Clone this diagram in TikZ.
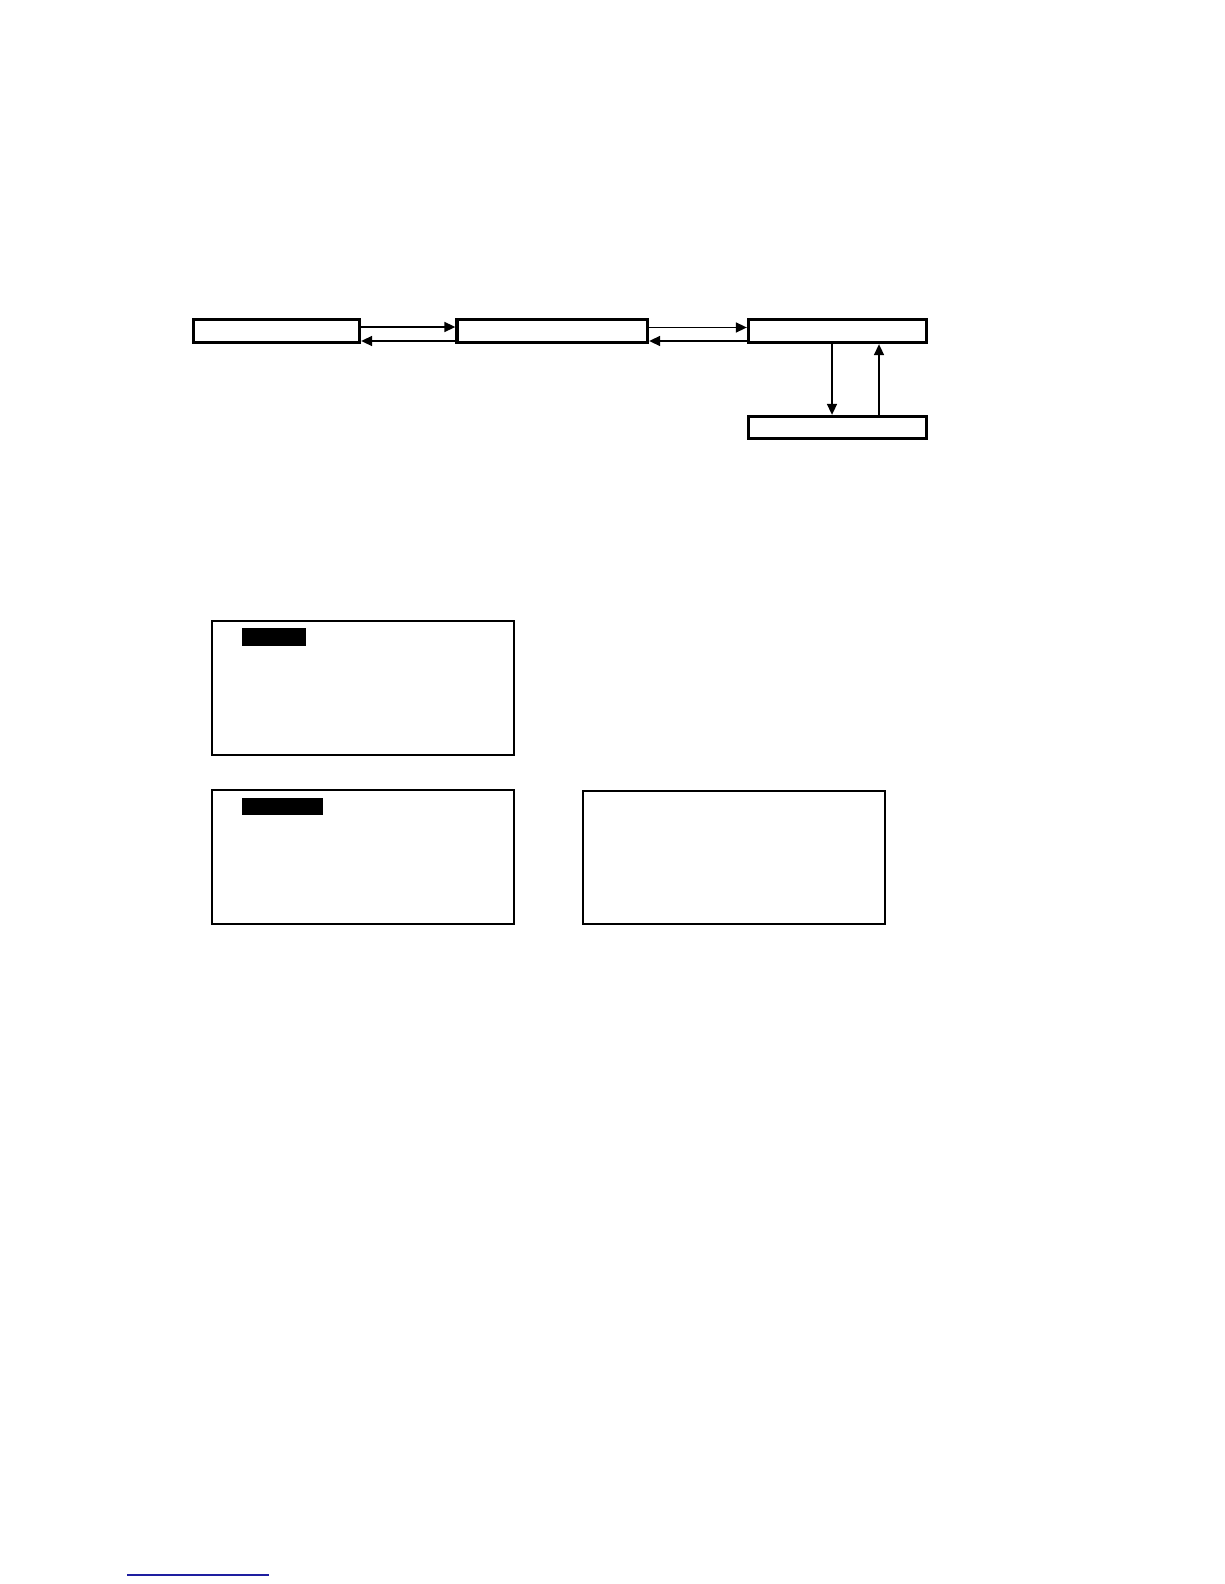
\documentclass[tikz,border=0pt]{standalone}
\usetikzlibrary{arrows.meta}
\definecolor{linkblue}{RGB}{30,30,160}
\begin{document}
\begin{tikzpicture}[x=1pt,y=-1pt,
  flowbox/.style={draw=black,line width=3.3pt,rectangle,inner sep=0pt,fill=white},
  panel/.style={draw=black,line width=2pt,rectangle,inner sep=0pt},
  blackbar/.style={fill=black,rectangle,inner sep=0pt},
  conn/.style={line width=1.6pt,-{Triangle[length=11pt,width=10pt]}}]
\useasboundingbox[fill=white] (0,0) rectangle (1224,1584);
% top flow boxes
\node[flowbox,minimum width=166pt,minimum height=23pt] (b1) at (276.5,331) {};
\node[flowbox,minimum width=190.5pt,minimum height=23pt] (b2) at (552.25,331) {};
\node[flowbox,minimum width=178pt,minimum height=23pt] (b3) at (837.5,331) {};
\node[flowbox,minimum width=178pt,minimum height=22pt] (b4) at (837.5,427.5) {};
% horizontal connectors
\draw[conn] ([yshift=4pt]b1.east) -- ([yshift=4pt]b2.west);
\draw[conn] ([yshift=-10pt]b2.west) -- ([yshift=-10pt]b1.east);
\draw[conn] ([yshift=3.5pt]b2.east) -- ([yshift=3.5pt]b3.west);
\draw[conn] ([yshift=-10pt]b3.west) -- ([yshift=-10pt]b2.east);
% vertical connectors
\draw[conn] ([xshift=-5.5pt]b3.south) -- ([xshift=-5.5pt]b4.north);
\draw[conn] ([xshift=41.5pt]b4.north) -- ([xshift=41.5pt]b3.south);
% lower panels
\node[panel,minimum width=302pt,minimum height=134pt] (pa) at (363,688) {};
\node[panel,minimum width=302pt,minimum height=134pt] (pb) at (363,857) {};
\node[panel,minimum width=302pt,minimum height=133pt] (pc) at (734,857.5) {};
\node[blackbar,minimum width=64pt,minimum height=18pt] (ha) at (274,637) {};
\node[blackbar,minimum width=81pt,minimum height=17pt] (hb) at (282.5,806.5) {};
% blue rule at bottom
\coordinate (ls) at (127,1575);
\coordinate (le) at (269,1575);
\draw[linkblue,line width=1.3pt] (ls) -- (le);
\end{tikzpicture}
\end{document}
